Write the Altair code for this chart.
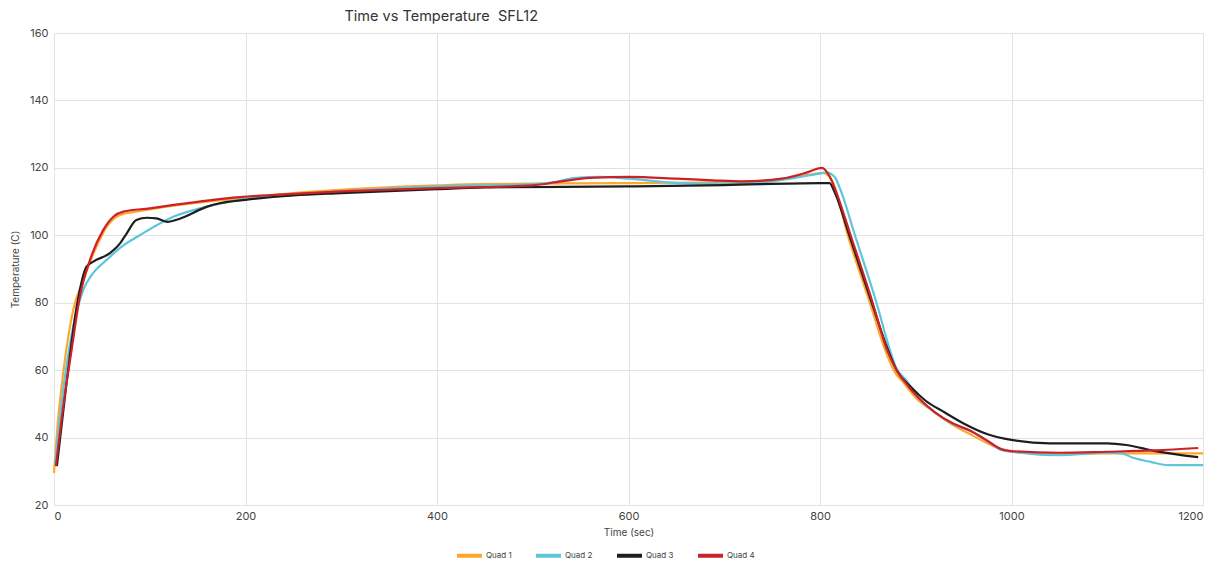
import altair as alt
import pandas as pd

series_names = ["Quad 1", "Quad 2", "Quad 3", "Quad 4"]
series_colors = ["#FFA62B", "#5DC6DB", "#1E1E1E", "#CB2229"]

q1_t = [0, 4.5, 10, 20, 30.6, 42.8, 55, 69, 90, 125, 160, 200, 250, 300, 400, 445, 500, 600, 700, 750, 790, 803,
        813, 829, 852, 868, 877, 888, 901, 920, 936, 960, 985, 1000, 1050, 1100, 1150, 1200]
q1_v = [29.5, 46, 60, 77.8, 86.7, 95.6, 102.5, 106, 107.2, 108.8, 110, 111, 112.5, 113.5, 114.8, 115.2, 115.3, 115.5, 115.8, 116.4, 118, 118.5,
        116, 100, 80, 66, 60, 56, 51.5, 47.5, 44.2, 40.5, 37, 35.8, 35.2, 35.3, 35.3, 35.3]

q2_t = [1, 10, 20, 30.6, 40, 55, 70, 90, 124.6, 159.5, 194, 250, 300, 400, 500, 520, 545, 570, 600, 654, 700, 750, 790, 807,
        815, 822, 836.5, 859, 873, 879, 890, 902, 920, 939, 957, 975, 988, 1000, 1050, 1100, 1115, 1127, 1145, 1165, 1200]
q2_v = [32, 55, 72.9, 83.8, 88.5, 92.7, 96.5, 100.1, 105.5, 108.5, 110.5, 112, 113, 114.5, 115.2, 115.6, 117, 117.3, 116.8, 115.5, 115.3, 116, 117.8, 118.6,
        117.4, 113, 100, 80, 66, 61, 57, 52, 47.5, 44, 42, 39, 36.5, 35.8, 34.8, 35.5, 35.3, 34, 32.8, 31.8, 31.8]

q3_t = [3, 13, 23.7, 34, 41, 58.5, 69, 76, 86, 97, 107, 118, 132, 160, 173, 200, 250, 300, 400, 450, 600, 700, 800, 810,
        815, 830.6, 854, 871, 880, 895, 910, 930, 950, 975, 1000, 1040, 1100, 1120, 1150, 1195]
q3_v = [31.5, 56, 78.8, 90.7, 92.2, 94.7, 97.6, 100.6, 104.5, 105.2, 105, 104, 105, 108.5, 109.5, 110.5, 111.8, 112.5, 113.7, 114.2, 114.5, 114.9, 115.5, 115.5,
        113, 100, 80, 66, 60, 55, 51, 47.5, 44.2, 41, 39.3, 38.3, 38.3, 37.8, 36, 34.2]

q4_t = [2, 10, 18.4, 27, 37.6, 51.5, 62, 72.4, 100, 125, 194, 250, 300, 400, 450, 500, 530, 560, 600, 650, 688, 720, 760, 785, 802,
        810, 818, 832, 855, 870, 878, 890, 902, 920, 938, 957, 975, 990, 1000, 1050, 1100, 1150, 1195]
q4_v = [31.5, 50, 66, 81.8, 92.7, 101.6, 105.5, 107, 108, 109, 111.3, 112.3, 113, 114, 114.3, 114.8, 116, 117, 117.3, 116.8, 116.3, 116, 116.8, 118.5, 120,
        117.5, 112, 100, 80, 66, 61, 56, 52, 47.5, 44.3, 42, 39, 36.5, 36, 35.5, 35.8, 36.2, 36.9]

x_ticks = [0, 200, 400, 600, 800, 1000, 1200]
y_ticks = [20, 40, 60, 80, 100, 120, 140, 160]

rows = []
for name, ts, vs in zip(series_names, [q1_t, q2_t, q3_t, q4_t], [q1_v, q2_v, q3_v, q4_v]):
    for i, (t, v) in enumerate(zip(ts, vs)):
        rows.append({"series": name, "time": t, "temp": v, "order": i})
df = pd.DataFrame(rows)

FONT = "Inter"

chart = alt.Chart(df).mark_line(
    interpolate="monotone", strokeWidth=2.2
).encode(
    x=alt.X("time:Q", title="Time (sec)",
            scale=alt.Scale(domain=[0, 1200], nice=False),
            axis=alt.Axis(values=x_ticks, format="d", grid=True, domain=False, ticks=False,
                          labelPadding=5, titlePadding=6, labelFontSize=11,
                          titleFontSize=10, titleFontWeight="normal")),
    y=alt.Y("temp:Q", title="Temperature (C)",
            scale=alt.Scale(domain=[20, 160], nice=False),
            axis=alt.Axis(values=y_ticks, grid=True, domain=False, ticks=False,
                          labelPadding=6, titlePadding=9, labelFontSize=11,
                          titleFontSize=10, titleFontWeight="normal")),
    color=alt.Color("series:N", title=None,
                    scale=alt.Scale(domain=series_names, range=series_colors),
                    legend=alt.Legend(orient="none", legendX=401, legendY=508,
                                      direction="horizontal", symbolType="stroke",
                                      symbolStrokeWidth=4, symbolSize=625,
                                      labelFontSize=8, labelOffset=2,
                                      columnPadding=16, labelColor="#444")),
    detail="series:N",
    order="order:Q",
).properties(
    width=1149, height=472,
    autosize=alt.AutoSizeParams(type="none"),
    padding={"left": 46, "top": 25, "right": 3, "bottom": 56},
    title=alt.TitleParams("Time vs Temperature \u00a0SFL12", anchor="start", dx=334,
                          fontSize=14.5, fontWeight="normal", color="#333", offset=3, font=FONT),
).configure_axis(
    gridColor="#e2e2e2", labelColor="#444", titleColor="#444",
    labelFont=FONT, titleFont=FONT
).configure_legend(labelFont=FONT).configure_view(stroke=None)

chart.save("out.html", embed_options={"renderer": "svg", "actions": False})
